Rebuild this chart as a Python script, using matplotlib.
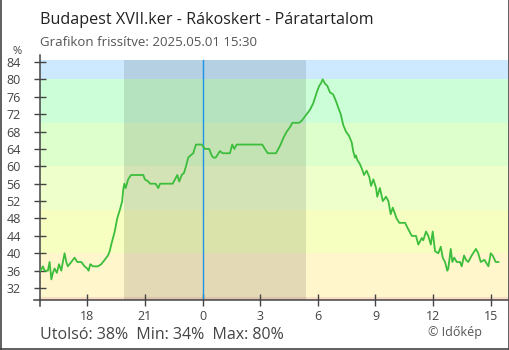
import matplotlib

matplotlib.use("Agg")
import matplotlib.pyplot as plt
from matplotlib.lines import Line2D

plt.rcParams["font.family"] = ["Open Sans", "DejaVu Sans"]

# relatív páratartalom (%), órák éjféltől (negatív = előző nap)
hours = [
    -8.44, -8.32, -8.23, -8.06, -7.97, -7.88, -7.80, -7.71, -7.59, -7.48,
    -7.36, -7.28, -7.19, -7.10, -7.02, -6.84, -6.67, -6.53, -6.32, -6.15,
    -6.01, -5.94, -5.85, -5.71, -5.45, -5.28, -5.10, -4.93, -4.84, -4.76,
    -4.67, -4.58, -4.45, -4.31, -4.19, -4.14, -4.08, -4.01, -3.88, -3.73,
    -3.09, -3.01, -2.83, -2.74, -2.45, -2.31, -2.22, -1.56, -1.44, -1.32,
    -1.22, -1.09, -0.97, -0.87, -0.75, -0.63, -0.49, -0.35, -0.05, 0.12,
    0.34, 0.47, 0.55, 0.68, 0.90, 1.04, 1.42, 1.54, 1.65, 1.77,
    3.10, 3.24, 3.39, 3.82, 3.94, 4.06, 4.20, 4.38, 4.55, 4.67,
    5.02, 5.16, 5.42, 5.59, 5.76, 5.94, 6.07, 6.15, 6.25, 6.37,
    6.49, 6.63, 6.80, 6.94, 7.06, 7.19, 7.32, 7.46, 7.62, 7.76,
    7.84, 7.93, 7.98, 8.05, 8.19, 8.33, 8.40, 8.54, 8.68, 8.77,
    8.89, 9.03, 9.09, 9.23, 9.38, 9.55, 9.67, 9.79, 9.90, 9.98,
    10.10, 10.24, 10.54, 10.71, 10.89, 11.11, 11.23, 11.41, 11.49, 11.63,
    11.75, 11.88, 11.98, 12.10, 12.27, 12.40, 12.50, 12.62, 12.74, 12.79,
    12.92, 13.00, 13.10, 13.23, 13.40, 13.49, 13.61, 13.71, 13.83, 14.01,
    14.23, 14.35, 14.48, 14.67, 14.88, 15.00, 15.10, 15.26, 15.40,
]
humidity = [
    36, 37, 36, 36, 38, 34, 35.5, 36.5, 35.5, 37.5,
    36, 38, 40, 38, 37, 38, 39, 38, 38, 37,
    36.5, 36, 37.5, 37, 37, 37.5, 38.5, 39.5, 40.5, 42,
    43.5, 45, 48, 50, 52, 54.5, 56, 55, 57, 58,
    58, 57, 56.5, 56, 56, 55, 56, 56, 57, 58,
    56.5, 58, 58.5, 60, 62, 62.5, 63, 65, 65, 64,
    64, 62.5, 62, 62, 63.5, 63, 63, 65, 64, 65,
    65, 64, 63, 63, 64, 65, 66.5, 68, 69, 70,
    70, 70.5, 72, 73, 74.5, 77, 78.5, 79, 80, 79,
    78.5, 77, 76.5, 75, 73.5, 72, 69.5, 68, 67, 65.5,
    63.5, 62, 62.5, 61.5, 60.5, 59, 58, 59, 57.5, 55.5,
    57, 55, 53, 55, 52, 53, 52, 49, 50.5, 49.5,
    48, 47, 47, 45.5, 44, 44, 42, 43.5, 43, 45,
    44, 42, 45, 40.5, 40, 41.5, 39, 38, 36, 36.5,
    41, 38, 39, 38, 38, 37, 39.5, 38.5, 38, 39.5,
    41, 40, 38, 38.5, 37, 40, 39.5, 38, 38,
]

# színsávok: (alsó, felső, szín)
band_edges = [29.26, 30, 40, 50, 60, 70, 80, 84.44]
band_colors = ["#f9dcc4", "#fff6cc", "#f6ffc0", "#eeffcc", "#ddffcc", "#ccffd8", "#cce9ff"]

sunset, sunrise = -4.1, 5.38  # 19:54 és 05:23
tick_hours = [-6, -3, 0, 3, 6, 9, 12, 15]
y_ticks = list(range(32, 85, 4))

W, H = 510, 350
fig = plt.figure(figsize=(W / 100, H / 100), dpi=100)
ax = fig.add_axes([40 / W, 50 / H, 468 / W, 245 / H])
ax.set_xlim(-8.47, 15.90)
ax.set_ylim(29.26, 85.59)

for lo, hi, c in zip(band_edges[:-1], band_edges[1:], band_colors):
    ax.axhspan(lo, hi, color=c, lw=0, zorder=0)

ax.fill_between([sunset, sunrise], band_edges[0], band_edges[-1],
                color="black", alpha=0.11, lw=0, zorder=1)
ax.plot([0, 0], [band_edges[0], band_edges[-1]], color="#1e93e6", lw=1, zorder=2)

ax.plot(hours, humidity, color="#3cbd3c", lw=1.3, zorder=3)

for s in ("top", "right", "bottom"):
    ax.spines[s].set_visible(False)
ax.spines["left"].set_color("#444444")
ax.spines["left"].set_linewidth(1.1)

axis_kw = dict(color="#444444", lw=1.1, clip_on=False, transform=ax.transAxes, zorder=4)
ax.add_line(Line2D([-6 / 468, 1], [0, 0], **axis_kw))
ax.add_line(Line2D([0, 0], [0, -6 / 245], **axis_kw))

ax.set_yticks(y_ticks)
ax.set_xticks(tick_hours)
ax.set_xticklabels([str(h % 24) for h in tick_hours])
ax.tick_params(axis="y", direction="inout", length=8.6, width=1.0, color="#444444",
               labelsize=9, labelcolor="#444444", pad=9.5)
ax.tick_params(axis="x", direction="inout", length=9, width=1.0, color="#444444",
               labelsize=9, labelcolor="#444444", pad=3)
for t, h in zip(ax.xaxis.get_major_ticks(), tick_hours):
    if h == 0:
        t.tick1line.set_color("#1e93e6")

fig.text(40 / W, 1 - 24 / H, "Budapest XVII.ker - Rákoskert - Páratartalom",
         fontsize=11.6, color="#222222", va="baseline")
fig.text(40 / W, 1 - 45.7 / H, "Grafikon frissítve: 2025.05.01 15:30",
         fontsize=9.5, color="#555555", va="baseline")
fig.text(17.5 / W, 1 - 51 / H, "%", fontsize=8, color="#444444", ha="center", va="center")
fig.text(40 / W, 1 - 339 / H, "Utolsó: 38%  Min: 34%  Max: 80%",
         fontsize=11.5, color="#444444", va="baseline")
fig.text(482 / W, 1 - 335.7 / H, "© Időkép", fontsize=9, color="#555555",
         ha="right", va="baseline")

# keret a kép szélén
frame_kw = dict(color="#444444", lw=1.2, transform=fig.transFigure)
fig.add_artist(Line2D([0.5 / W, 0.5 / W], [0, 1], **frame_kw))
fig.add_artist(Line2D([1 - 0.8 / W, 1 - 0.8 / W], [0, 1], **frame_kw))
fig.add_artist(Line2D([0, 1], [0.8 / H, 0.8 / H], **frame_kw))

fig.savefig("out.png", dpi=100)
